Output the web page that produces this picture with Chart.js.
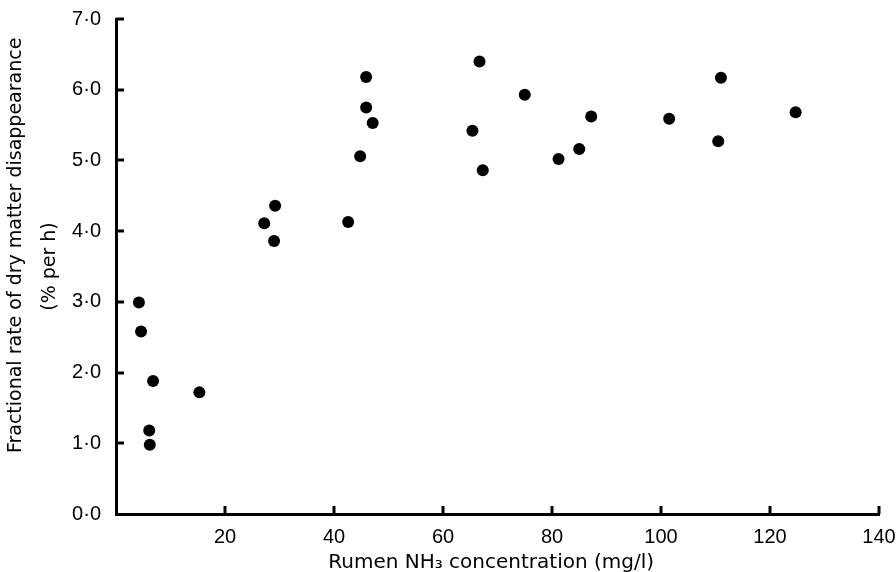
<!DOCTYPE html>
<html>
<head>
<meta charset="utf-8">
<script src="https://cdn.jsdelivr.net/npm/chart.js@4.4.1/dist/chart.umd.min.js"></script>
<style>
  html, body { margin: 0; padding: 0; background: #fff; }
  #wrap { width: 896px; height: 572px; }
</style>
</head>
<body>
<div id="wrap"><canvas id="scatter"></canvas></div>
<script>
// rumen NH3 (mg/l) vs fractional rate of DM disappearance (% per h)
const nh3 = [4.2, 4.6, 6.8, 15.3, 6.1, 6.2,
  66.7, 45.9, 75.0, 45.9, 47.1, 65.4, 44.8, 67.3, 29.2, 27.2, 42.6, 29.0,
  87.2, 85.0, 81.2, 101.5, 111.0, 110.5, 124.7];
const rate = [2.99, 2.58, 1.88, 1.72, 1.18, 0.98,
  6.40, 6.18, 5.93, 5.75, 5.53, 5.42, 5.06, 4.86, 4.36, 4.11, 4.13, 3.86,
  5.62, 5.16, 5.02, 5.59, 6.17, 5.27, 5.68];
const xTicks = [20, 40, 60, 80, 100, 120, 140];
const yTicks = [0, 1, 2, 3, 4, 5, 6, 7];

const points = nh3.map((v, i) => ({ x: v, y: rate[i] }));

/* inward tick marks, the way the printed figure has them */
const innerTicks = {
  id: 'innerTicks',
  afterDraw(chart) {
    const { ctx, chartArea, scales } = chart;
    ctx.save();
    ctx.strokeStyle = '#000';
    ctx.lineWidth = 3;
    xTicks.forEach(v => {
      const px = Math.round(scales.x.getPixelForValue(v));
      ctx.beginPath();
      ctx.moveTo(px, chartArea.bottom);
      ctx.lineTo(px, chartArea.bottom - 8);
      ctx.stroke();
    });
    yTicks.forEach(v => {
      if (v === 0) return;
      const py = Math.round(scales.y.getPixelForValue(v));
      ctx.beginPath();
      ctx.moveTo(chartArea.left, py);
      ctx.lineTo(chartArea.left + 8, py);
      ctx.stroke();
    });
    ctx.restore();
  }
};

Chart.defaults.font.family = '"Liberation Sans", Arial, sans-serif';
Chart.defaults.color = '#000';

const pad = n => '\u00a0'.repeat(n); // nudges a centred title off-centre

new Chart(document.getElementById('scatter'), {
  type: 'scatter',
  data: {
    datasets: [{
      data: points,
      backgroundColor: '#000',
      borderWidth: 0,
      pointRadius: 6,
      pointHoverRadius: 6
    }]
  },
  options: {
    responsive: true,
    maintainAspectRatio: false,
    animation: false,
    events: [],
    layout: { padding: { top: 19, right: 17, left: 0, bottom: 0 } },
    plugins: { legend: { display: false }, tooltip: { enabled: false } },
    scales: {
      x: {
        type: 'linear',
        min: 0,
        max: 140,
        afterBuildTicks: s => { s.ticks = xTicks.map(v => ({ value: v })); },
        afterFit: s => { s.height = 58; s.paddingLeft = 0; s.paddingRight = 0; },
        grid: { display: false },
        border: { display: true, width: 3, color: '#000' },
        ticks: { padding: 3, font: { size: 20 }, maxRotation: 0 },
        title: {
          display: true,
          text: 'Rumen NH\u2083 concentration (mg/l)' + pad(2),
          font: { family: '"DejaVu Sans", sans-serif', size: 20, lineHeight: 0.9 },
          padding: { top: 0, bottom: 0 }
        }
      },
      y: {
        min: 0,
        max: 7,
        afterBuildTicks: s => { s.ticks = yTicks.map(v => ({ value: v })); },
        afterFit: s => { s.width = 116; s.paddingTop = 0; s.paddingBottom = 0; },
        grid: { display: false },
        border: { display: true, width: 3, color: '#000' },
        ticks: {
          padding: 7,
          font: { size: 20 },
          callback: v => v.toFixed(1).replace('.', '\u00b7')
        },
        title: {
          display: true,
          text: [pad(7) + 'Fractional rate of dry matter disappearance', '(% per h)'],
          font: { family: '"DejaVu Sans", sans-serif', size: 19, lineHeight: 1.74 },
          padding: { top: 0, bottom: 0 }
        }
      }
    }
  },
  plugins: [innerTicks]
});
</script>
</body>
</html>
